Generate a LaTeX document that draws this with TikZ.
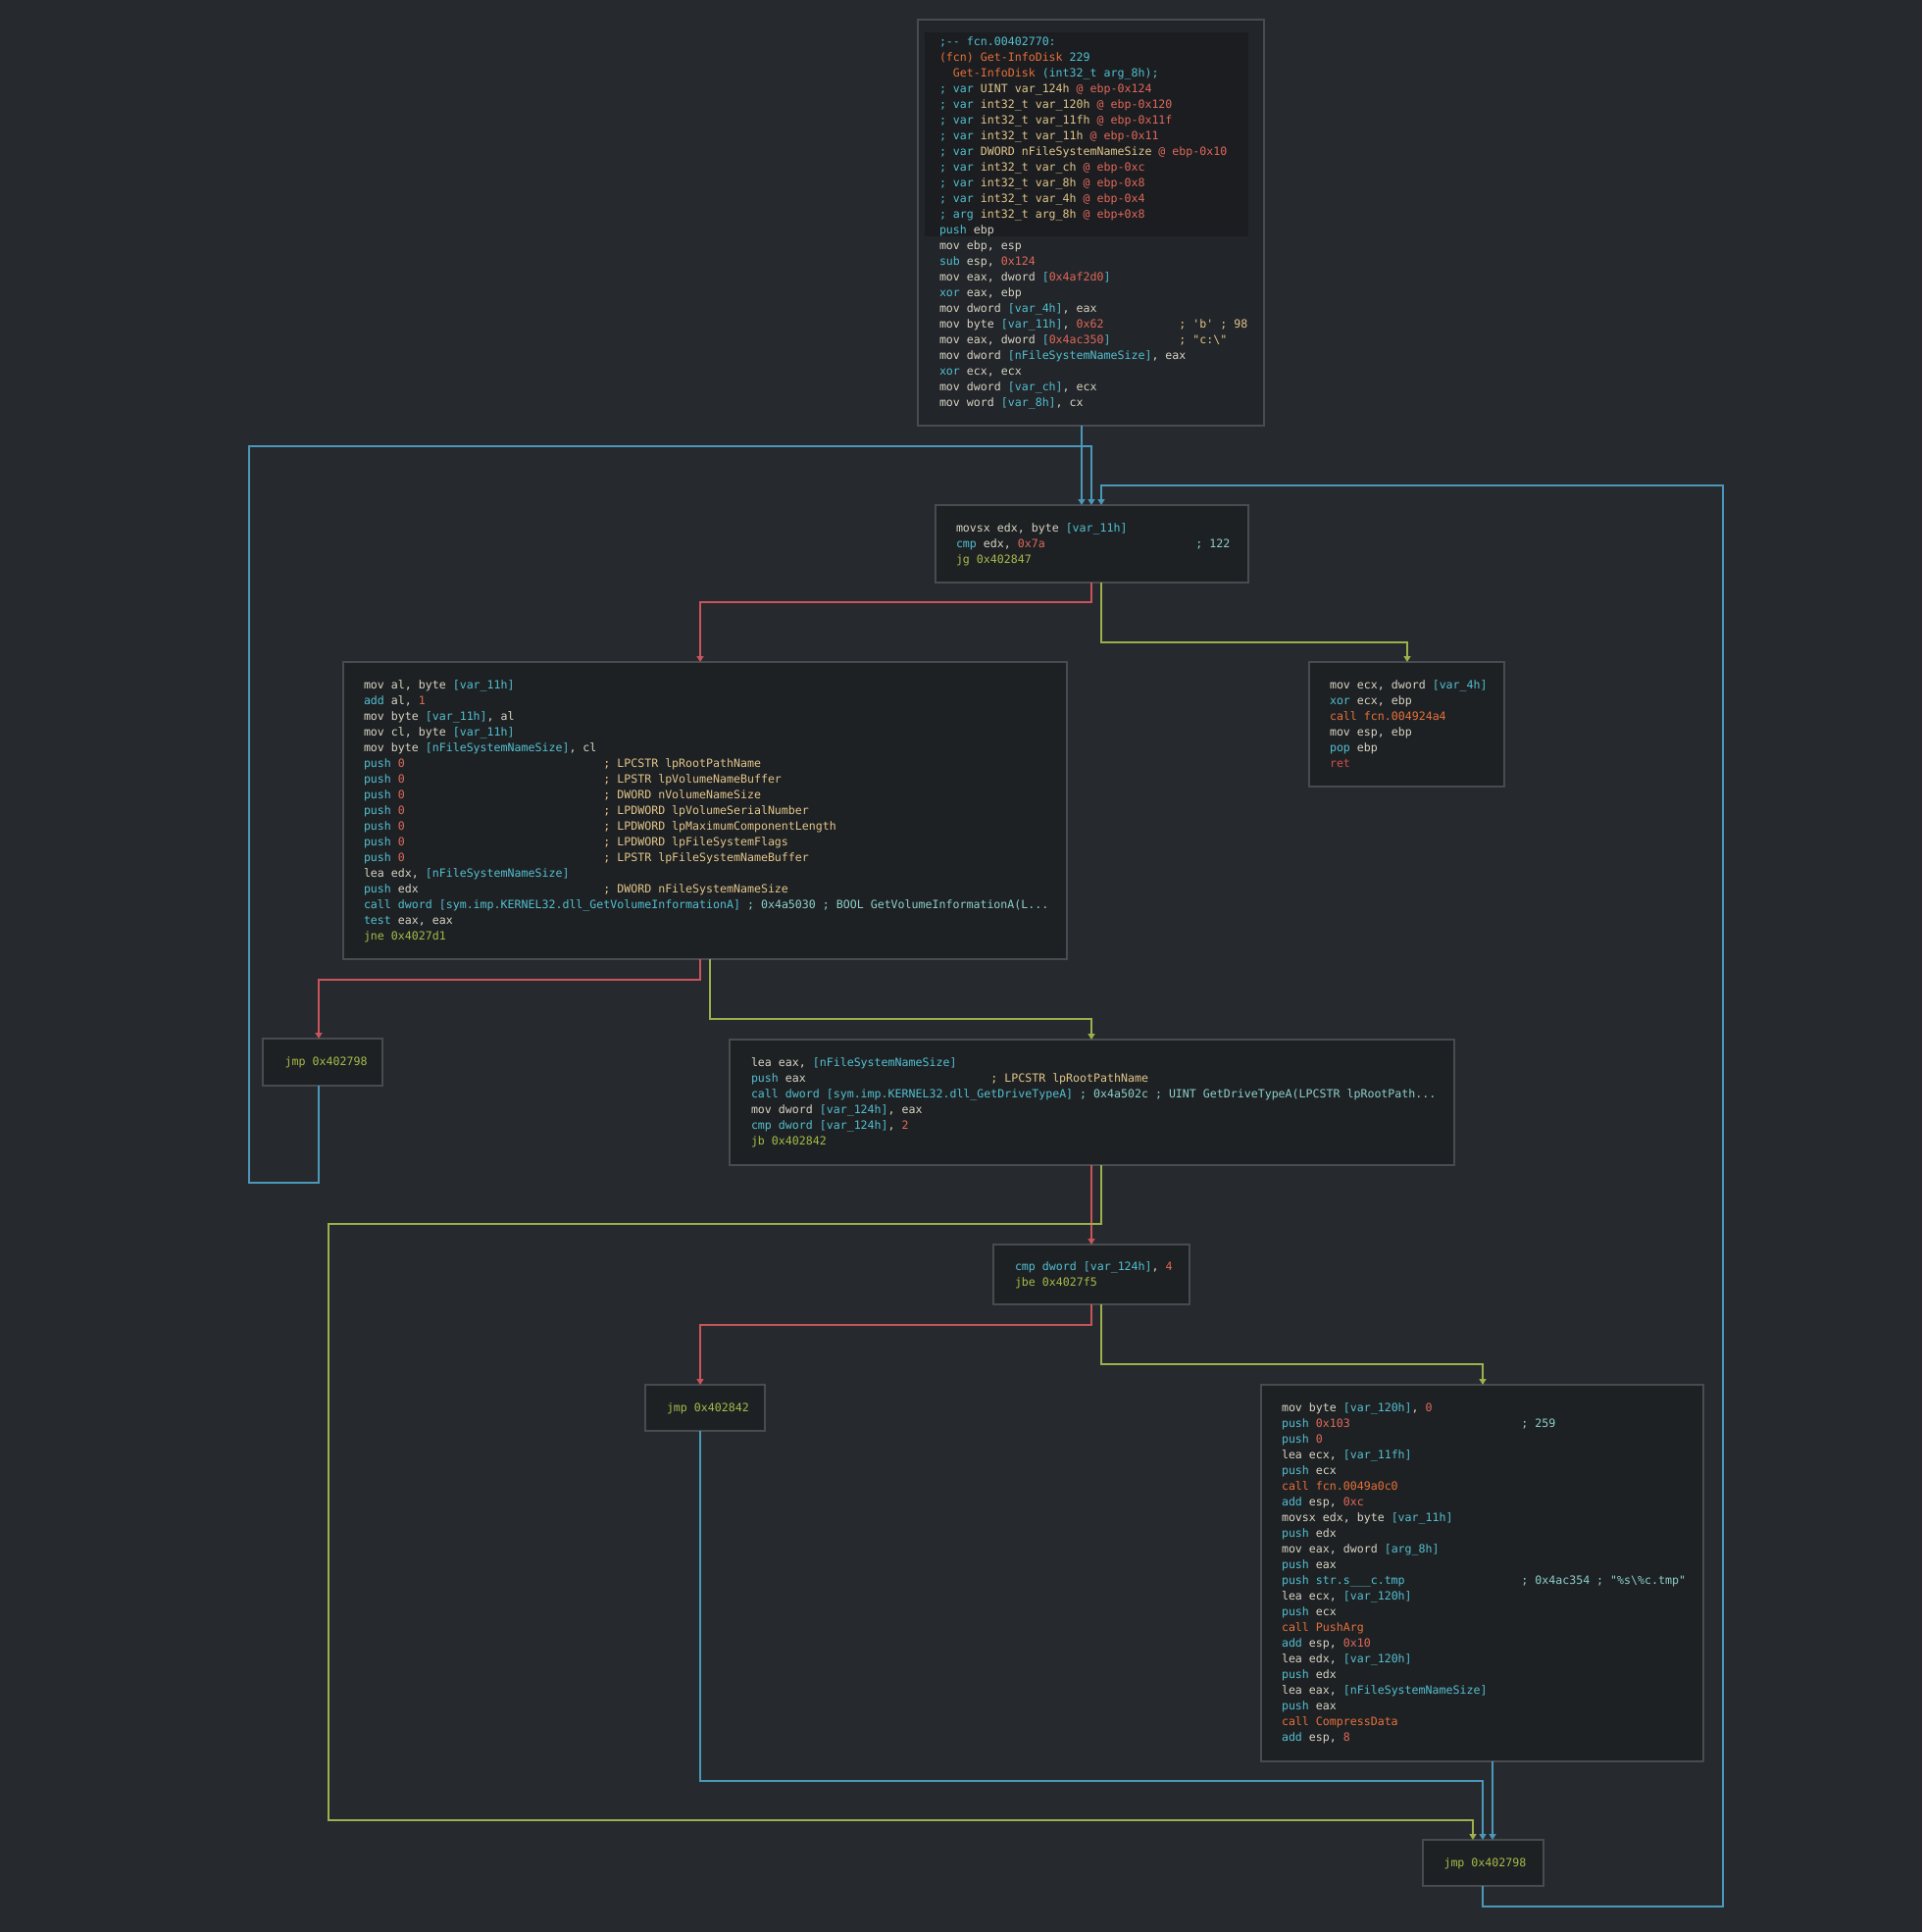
\documentclass[tikz,border=0pt]{standalone}
\usepackage{fontspec}
\usetikzlibrary{arrows.meta}
\newfontfamily\monof{DejaVu Sans Mono}
\definecolor{bgc}{HTML}{262A2E}
\definecolor{nfill}{HTML}{1E2124}
\definecolor{tfill}{HTML}{222529}
\definecolor{hfill}{HTML}{1B1D20}
\definecolor{bord}{HTML}{484B4F}
\definecolor{wht}{HTML}{D8D4C4}
\definecolor{cyc}{HTML}{52BFD0}
\definecolor{numc}{HTML}{E0685A}
\definecolor{orgc}{HTML}{E6703A}
\definecolor{yelc}{HTML}{E3C58A}
\definecolor{grnc}{HTML}{A8BA48}
\definecolor{redc}{HTML}{D2504A}
\definecolor{lcyc}{HTML}{8CCFCB}
\definecolor{eblue}{HTML}{4B97BA}
\definecolor{ered}{HTML}{C9545B}
\definecolor{egreen}{HTML}{9CB04C}
\newcommand\tC[1]{\textcolor{cyc}{#1}}
\newcommand\tN[1]{\textcolor{numc}{#1}}
\newcommand\tO[1]{\textcolor{orgc}{#1}}
\newcommand\tY[1]{\textcolor{yelc}{#1}}
\newcommand\tG[1]{\textcolor{grnc}{#1}}
\newcommand\tR[1]{\textcolor{redc}{#1}}
\newcommand\tK[1]{\textcolor{lcyc}{#1}}
\newcounter{tln}
\def\curx{0}\def\cury{0}
\newcommand\startat[2]{\xdef\curx{#1}\xdef\cury{#2}}
\newcommand\lin[1]{\stepcounter{tln}\node[txt] (tl\arabic{tln}) at (\curx,\cury) {#1};\pgfmathsetmacro\nycoord{\cury+16}\xdef\cury{\nycoord}}
\newcommand\linc[2]{\stepcounter{tln}\node[txt] (tl\arabic{tln}) at (\curx,\cury) {#1};\pgfmathsetmacro\cmx{\curx+244.4}\stepcounter{tln}\node[txt] (tl\arabic{tln}) at (\cmx,\cury) {#2};\pgfmathsetmacro\nycoord{\cury+16}\xdef\cury{\nycoord}}
\tikzset{
  txt/.style={anchor=base west, inner sep=0pt, outer sep=0pt, text=wht, font=\monof\fontsize{11.6}{16}\selectfont},
  blk/.style={draw=bord, line width=1.6pt, fill=nfill, anchor=north west, inner sep=0pt, outer sep=0pt},
  eb/.style={draw=eblue, line width=1.5pt, -{Triangle[width=7pt,length=6pt]}},
  er/.style={draw=ered, line width=1.5pt, -{Triangle[width=7pt,length=6pt]}},
  eg/.style={draw=egreen, line width=1.5pt, -{Triangle[width=7pt,length=6pt]}},
}
\begin{document}
\begin{tikzpicture}[x=1pt,y=-1pt]
\useasboundingbox (0,0) rectangle (1960,1970);
\fill[bgc] (0,0) rectangle (1960,1970);
% blocks
\node[blk, fill=tfill, minimum width=353pt, minimum height=414pt] (top) at (936,20) {};
\node[fill=hfill, anchor=north west, inner sep=0pt, minimum width=330pt, minimum height=208pt] (hdr) at (943,33) {};
\node[blk, minimum width=319pt, minimum height=79pt] (b) at (954,515) {};
\node[blk, minimum width=738pt, minimum height=303pt] (c) at (350,675) {};
\node[blk, minimum width=199pt, minimum height=127pt] (d) at (1335,675) {};
\node[blk, minimum width=122pt, minimum height=48pt] (e) at (268,1059) {};
\node[blk, minimum width=739pt, minimum height=128pt] (f) at (744,1060) {};
\node[blk, minimum width=200pt, minimum height=61pt] (g) at (1013,1269) {};
\node[blk, minimum width=122pt, minimum height=47pt] (h) at (658,1412) {};
\node[blk, minimum width=451pt, minimum height=384pt] (i) at (1286,1412) {};
\node[blk, minimum width=123pt, minimum height=47pt] (j) at (1451,1876) {};
% edges
\draw[eb] (top.south -| 1103,0) -- (b.north -| 1103,0);
\draw[eb] (e.south -| 325,0) -- (325,1206) -- (254,1206) -- (254,455) -- (1113,455) -- (b.north -| 1113,0);
\draw[eb] (j.south -| 1512,0) -- (1512,1944) -- (1757,1944) -- (1757,495) -- (1123,495) -- (b.north -| 1123,0);
\draw[er] (b.south -| 1113,0) -- (1113,614) -- (714,614) -- (c.north -| 714,0);
\draw[eg] (b.south -| 1123,0) -- (1123,655) -- (1435,655) -- (d.north -| 1435,0);
\draw[er] (c.south -| 714,0) -- (714,999) -- (325,999) -- (e.north -| 325,0);
\draw[eg] (c.south -| 724,0) -- (724,1039) -- (1113,1039) -- (f.north -| 1113,0);
\draw[er] (f.south -| 1113,0) -- (g.north -| 1113,0);
\draw[eg] (f.south -| 1123,0) -- (1123,1248) -- (335,1248) -- (335,1856) -- (1502,1856) -- (j.north -| 1502,0);
\draw[er] (g.south -| 1113,0) -- (1113,1351) -- (714,1351) -- (h.north -| 714,0);
\draw[eg] (g.south -| 1123,0) -- (1123,1391) -- (1512,1391) -- (i.north -| 1512,0);
\draw[eb] (h.south -| 714,0) -- (714,1816) -- (1512,1816) -- (j.north -| 1512,0);
\draw[eb] (i.south -| 1522,0) -- (j.north -| 1522,0);
% top block text
\startat{958}{46}
\lin{\tC{;-{}- fcn.00402770:}}
\lin{\tO{(fcn) Get-InfoDisk} \tC{229}}
\lin{\phantom{xx}\tO{Get-InfoDisk} \tC{(int32\_t arg\_8h);}}
\lin{\tC{; var} \tY{UINT var\_124h} \tN{@ ebp-0x124}}
\lin{\tC{; var} \tY{int32\_t var\_120h} \tN{@ ebp-0x120}}
\lin{\tC{; var} \tY{int32\_t var\_11fh} \tN{@ ebp-0x11f}}
\lin{\tC{; var} \tY{int32\_t var\_11h} \tN{@ ebp-0x11}}
\lin{\tC{; var} \tY{DWORD nFileSystemNameSize} \tN{@ ebp-0x10}}
\lin{\tC{; var} \tY{int32\_t var\_ch} \tN{@ ebp-0xc}}
\lin{\tC{; var} \tY{int32\_t var\_8h} \tN{@ ebp-0x8}}
\lin{\tC{; var} \tY{int32\_t var\_4h} \tN{@ ebp-0x4}}
\lin{\tC{; arg} \tY{int32\_t arg\_8h} \tN{@ ebp+0x8}}
\lin{\tC{push} ebp}
\lin{mov ebp, esp}
\lin{\tC{sub} esp, \tN{0x124}}
\lin{mov eax, dword \tC{[}\tN{0x4af2d0}\tC{]}}
\lin{\tC{xor} eax, ebp}
\lin{mov dword \tC{[var\_4h]}, eax}
\linc{mov byte \tC{[var\_11h]}, \tN{0x62}}{\tY{; 'b' ; 98}}
\linc{mov eax, dword \tC{[}\tN{0x4ac350}\tC{]}}{\tY{; "c:\textbackslash"}}
\lin{mov dword \tC{[nFileSystemNameSize]}, eax}
\lin{\tC{xor} ecx, ecx}
\lin{mov dword \tC{[var\_ch]}, ecx}
\lin{mov word \tC{[var\_8h]}, cx}
% block b
\startat{975}{542}
\lin{movsx edx, byte \tC{[var\_11h]}}
\linc{\tC{cmp} edx, \tN{0x7a}}{\tK{; 122}}
\lin{\tG{jg 0x402847}}
% block c
\startat{371}{702}
\lin{mov al, byte \tC{[var\_11h]}}
\lin{\tC{add} al, \tN{1}}
\lin{mov byte \tC{[var\_11h]}, al}
\lin{mov cl, byte \tC{[var\_11h]}}
\lin{mov byte \tC{[nFileSystemNameSize]}, cl}
\linc{\tC{push} \tN{0}}{\tY{; LPCSTR lpRootPathName}}
\linc{\tC{push} \tN{0}}{\tY{; LPSTR lpVolumeNameBuffer}}
\linc{\tC{push} \tN{0}}{\tY{; DWORD nVolumeNameSize}}
\linc{\tC{push} \tN{0}}{\tY{; LPDWORD lpVolumeSerialNumber}}
\linc{\tC{push} \tN{0}}{\tY{; LPDWORD lpMaximumComponentLength}}
\linc{\tC{push} \tN{0}}{\tY{; LPDWORD lpFileSystemFlags}}
\linc{\tC{push} \tN{0}}{\tY{; LPSTR lpFileSystemNameBuffer}}
\lin{lea edx, \tC{[nFileSystemNameSize]}}
\linc{\tC{push} edx}{\tY{; DWORD nFileSystemNameSize}}
\lin{\tC{call dword [sym.imp.KERNEL32.dll\_GetVolumeInformationA]} \tK{; 0x4a5030 ; BOOL GetVolumeInformationA(L...}}
\lin{\tC{test} eax, eax}
\lin{\tG{jne 0x4027d1}}
% block d
\startat{1356}{702}
\lin{mov ecx, dword \tC{[var\_4h]}}
\lin{\tC{xor} ecx, ebp}
\lin{\tO{call fcn.004924a4}}
\lin{mov esp, ebp}
\lin{\tC{pop} ebp}
\lin{\tR{ret}}
% block e
\startat{290.7}{1086}
\lin{\tG{jmp 0x402798}}
% block f
\startat{766}{1087}
\lin{lea eax, \tC{[nFileSystemNameSize]}}
\linc{\tC{push} eax}{\tY{; LPCSTR lpRootPathName}}
\lin{\tC{call dword [sym.imp.KERNEL32.dll\_GetDriveTypeA]} \tK{; 0x4a502c ; UINT GetDriveTypeA(LPCSTR lpRootPath...}}
\lin{mov dword \tC{[var\_124h]}, eax}
\lin{\tC{cmp dword [var\_124h]}, \tN{2}}
\lin{\tG{jb 0x402842}}
% block g
\startat{1035}{1295}
\lin{\tC{cmp dword [var\_124h]}, \tN{4}}
\lin{\tG{jbe 0x4027f5}}
% block h
\startat{680}{1439}
\lin{\tG{jmp 0x402842}}
% block i
\startat{1307}{1439}
\lin{mov byte \tC{[var\_120h]}, \tN{0}}
\linc{\tC{push} \tN{0x103}}{\tK{; 259}}
\lin{\tC{push} \tN{0}}
\lin{lea ecx, \tC{[var\_11fh]}}
\lin{\tC{push} ecx}
\lin{\tO{call fcn.0049a0c0}}
\lin{\tC{add} esp, \tN{0xc}}
\lin{movsx edx, byte \tC{[var\_11h]}}
\lin{\tC{push} edx}
\lin{mov eax, dword \tC{[arg\_8h]}}
\lin{\tC{push} eax}
\linc{\tC{push str.s\_\_\_c.tmp}}{\tK{; 0x4ac354 ; "\%s\textbackslash\%c.tmp"}}
\lin{lea ecx, \tC{[var\_120h]}}
\lin{\tC{push} ecx}
\lin{\tO{call PushArg}}
\lin{\tC{add} esp, \tN{0x10}}
\lin{lea edx, \tC{[var\_120h]}}
\lin{\tC{push} edx}
\lin{lea eax, \tC{[nFileSystemNameSize]}}
\lin{\tC{push} eax}
\lin{\tO{call CompressData}}
\lin{\tC{add} esp, \tN{8}}
% block j
\startat{1472.5}{1903}
\lin{\tG{jmp 0x402798}}
\end{tikzpicture}
\end{document}
